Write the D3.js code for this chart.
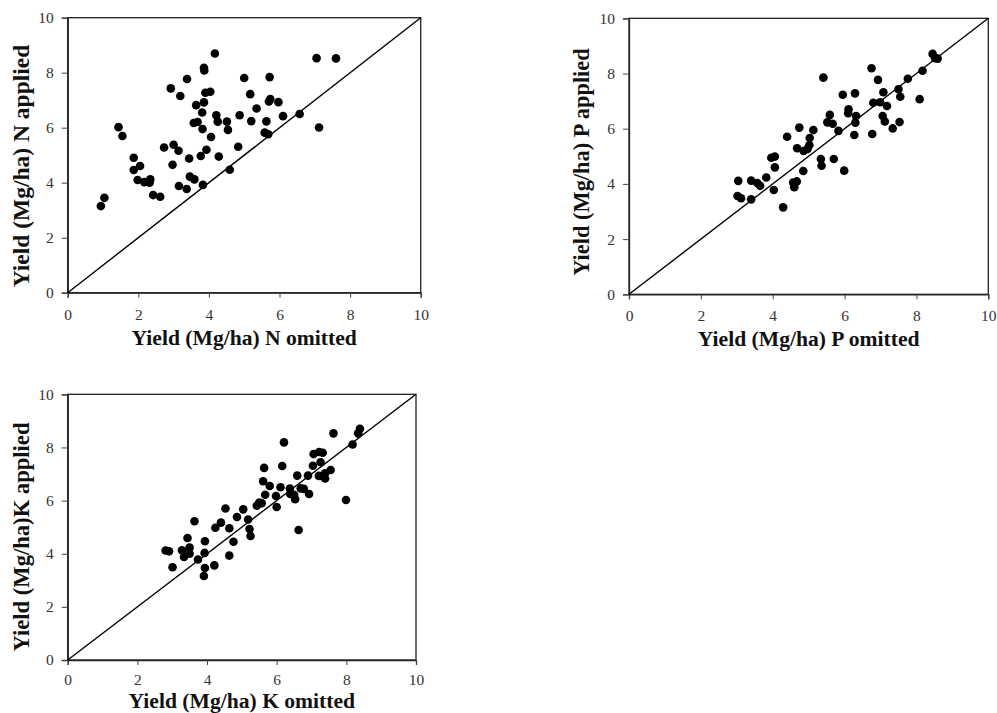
<!DOCTYPE html>
<html>
<head>
<meta charset="utf-8">
<script src="https://cdn.jsdelivr.net/npm/d3@7"></script>
<style>
  body { margin: 0; background: #fff; }
  svg { display: block; }
</style>
</head>
<body>
<div id="chart"></div>
<script>
// Yield pairs (Mg/ha)
const nOmitted = [0.94, 1.04, 1.44, 1.55, 1.87, 1.87, 2.05, 1.98, 2.17, 2.34, 2.32, 2.42, 2.62, 2.73, 2.92, 2.97,
  3.00, 3.14, 3.15, 3.19, 3.38, 3.37, 3.44, 3.46, 3.59, 3.57, 3.68, 3.64, 3.77, 3.82, 3.81, 3.86, 3.86, 3.87, 3.83,
  3.90, 3.93, 4.04, 4.06, 4.17, 4.21, 4.25, 4.28, 4.51, 4.54, 4.59, 4.83, 4.87, 5.00, 5.17, 5.20, 5.35, 5.58, 5.63,
  5.68, 5.72, 5.74, 5.70, 5.97, 6.10, 6.57, 7.05, 7.12, 7.60];
const nApplied = [3.15, 3.45, 6.02, 5.70, 4.91, 4.46, 4.61, 4.10, 4.02, 4.12, 4.00, 3.55, 3.49, 5.28, 7.43, 4.65,
  5.38, 5.16, 3.88, 7.15, 7.77, 3.77, 4.88, 4.22, 4.12, 6.17, 6.21, 6.82, 4.97, 5.95, 6.55, 6.92, 8.18, 8.08, 3.92,
  7.27, 5.20, 7.31, 5.66, 8.70, 6.45, 6.22, 4.95, 6.22, 5.92, 4.47, 5.31, 6.45, 7.81, 7.22, 6.24, 6.70, 5.82, 6.23,
  5.76, 7.84, 7.04, 6.95, 6.93, 6.42, 6.50, 8.53, 6.01, 8.52];

const pOmitted = [3.04, 3.02, 3.12, 3.40, 3.40, 3.57, 3.65, 3.82, 3.96, 4.06, 4.06, 4.03, 4.29, 4.40, 4.57, 4.60,
  4.67, 4.68, 4.74, 4.85, 4.86, 4.97, 5.02, 5.03, 5.13, 5.34, 5.36, 5.41, 5.52, 5.59, 5.67, 5.70, 5.83, 5.95, 5.99,
  6.11, 6.10, 6.29, 6.32, 6.30, 6.27, 6.75, 6.77, 6.80, 6.93, 6.99, 7.08, 7.06, 7.12, 7.18, 7.34, 7.50, 7.55, 7.53,
  7.76, 8.09, 8.17, 8.45, 8.52, 8.59];
const pApplied = [4.11, 3.56, 3.48, 4.12, 3.44, 4.03, 3.93, 4.23, 4.95, 4.99, 4.60, 3.78, 3.15, 5.71, 4.05, 3.88,
  4.09, 5.29, 6.04, 4.47, 5.19, 5.27, 5.40, 5.66, 5.95, 4.90, 4.66, 7.85, 6.23, 6.50, 6.18, 4.90, 5.92, 7.23, 4.48,
  6.70, 6.56, 7.28, 6.46, 6.22, 5.77, 8.19, 5.81, 6.94, 7.77, 6.96, 7.32, 6.46, 6.26, 6.82, 6.01, 7.43, 7.16, 6.24,
  7.81, 7.07, 8.10, 8.71, 8.55, 8.54];

const kOmitted = [2.81, 2.91, 3.01, 3.28, 3.34, 3.44, 3.50, 3.50, 3.64, 3.74, 3.94, 3.93, 3.94, 3.91, 4.21, 4.24,
  4.40, 4.53, 4.64, 4.64, 4.76, 4.86, 5.04, 5.18, 5.22, 5.25, 5.43, 5.50, 5.57, 5.61, 5.64, 5.67, 5.80, 5.98, 6.00,
  6.11, 6.16, 6.21, 6.38, 6.39, 6.50, 6.53, 6.59, 6.63, 6.69, 6.78, 6.90, 6.93, 7.04, 7.06, 7.22, 7.32, 7.26, 7.21,
  7.39, 7.39, 7.55, 7.63, 7.99, 8.18, 8.34, 8.39];
const kApplied = [4.12, 4.09, 3.49, 4.13, 3.88, 4.59, 4.23, 4.00, 5.22, 3.78, 4.47, 4.03, 3.46, 3.16, 3.56, 4.98,
  5.17, 5.70, 4.96, 3.93, 4.45, 5.38, 5.67, 5.29, 4.93, 4.67, 5.81, 5.93, 5.90, 6.73, 7.23, 6.22, 6.55, 6.17, 5.76,
  6.50, 7.30, 8.19, 6.45, 6.25, 6.22, 6.05, 6.94, 4.89, 6.46, 6.44, 6.94, 6.25, 7.31, 7.75, 7.83, 7.80, 7.44, 6.93,
  7.03, 6.83, 7.15, 8.53, 6.02, 8.11, 8.53, 8.70];

const tickValues = [0, 2, 4, 6, 8, 10];
const xTitles = ['Yield (Mg/ha) N omitted', 'Yield (Mg/ha) P omitted', 'Yield (Mg/ha) K omitted'];
const yTitles = ['Yield (Mg/ha) N applied', 'Yield (Mg/ha) P applied', 'Yield (Mg/ha)K applied'];

const width = 997;
const height = 713;
const serif = '"Liberation Serif", "Times New Roman", Times, serif';

const panels = [
  { x: nOmitted, y: nApplied, left: 67.7, right: 420.7, top: 17.7, bottom: 292.7, xPad: 11,
    xTitleY: 345, yTitleX: 29, yTitleMid: 166, yTitleSize: 23.5 },
  { x: pOmitted, y: pApplied, left: 629, right: 988.3, top: 18.3, bottom: 294.3, xPad: 11,
    xTitleY: 346, yTitleX: 589, yTitleMid: 162, yTitleSize: 22.4 },
  { x: kOmitted, y: kApplied, left: 67.7, right: 416, top: 394.3, bottom: 660, xPad: 9,
    xTitleY: 708, yTitleX: 29, yTitleMid: 537, yTitleSize: 22.6 }
];

const svg = d3.select('#chart')
  .append('svg')
    .attr('width', width)
    .attr('height', height);

panels.forEach(function (p, i) {
  const xScale = d3.scaleLinear().domain([0, 10]).range([p.left, p.right]);
  const yScale = d3.scaleLinear().domain([0, 10]).range([p.bottom, p.top]);
  const g = svg.append('g').classed('panel', true);

  // frame
  g.append('rect')
    .attr('x', p.left)
    .attr('y', p.top)
    .attr('width', p.right - p.left)
    .attr('height', p.bottom - p.top)
    .attr('fill', 'none')
    .attr('stroke', '#222')
    .attr('stroke-width', 1.3);

  const xAxis = g.append('g')
    .attr('transform', `translate(0, ${p.bottom})`)
    .call(d3.axisBottom(xScale).tickValues(tickValues).tickSize(5).tickPadding(p.xPad));
  const yAxis = g.append('g')
    .attr('transform', `translate(${p.left}, 0)`)
    .call(d3.axisLeft(yScale).tickValues(tickValues).tickSize(6).tickPadding(8));

  [xAxis, yAxis].forEach(function (a) {
    a.attr('font-family', serif).attr('font-size', 15.5);
    a.select('.domain').attr('stroke', '#222').attr('stroke-width', 1.3);
    a.selectAll('.tick line').attr('stroke', '#444').attr('stroke-width', 1);
    a.selectAll('.tick text').attr('fill', '#333');
  });

  // 1:1 line
  g.append('line')
    .attr('x1', xScale(0)).attr('y1', yScale(0))
    .attr('x2', xScale(10)).attr('y2', yScale(10))
    .attr('stroke', '#000')
    .attr('stroke-width', 1.4);

  g.selectAll('.dot')
    .data(d3.zip(p.x, p.y))
    .enter()
    .append('circle')
      .classed('dot', true)
      .attr('cx', function (d) { return xScale(d[0]); })
      .attr('cy', function (d) { return yScale(d[1]); })
      .attr('r', 4.3)
      .attr('fill', '#000');

  g.append('text')
    .attr('x', (p.left + p.right) / 2)
    .attr('y', p.xTitleY)
    .attr('text-anchor', 'middle')
    .attr('font-family', serif)
    .attr('font-weight', 'bold')
    .attr('font-size', 21.6)
    .attr('fill', '#111')
    .text(xTitles[i]);

  g.append('text')
    .attr('transform', `translate(${p.yTitleX}, ${p.yTitleMid}) rotate(-90)`)
    .attr('text-anchor', 'middle')
    .attr('font-family', serif)
    .attr('font-weight', 'bold')
    .attr('font-size', p.yTitleSize)
    .attr('fill', '#111')
    .text(yTitles[i]);
});
</script>
</body>
</html>
